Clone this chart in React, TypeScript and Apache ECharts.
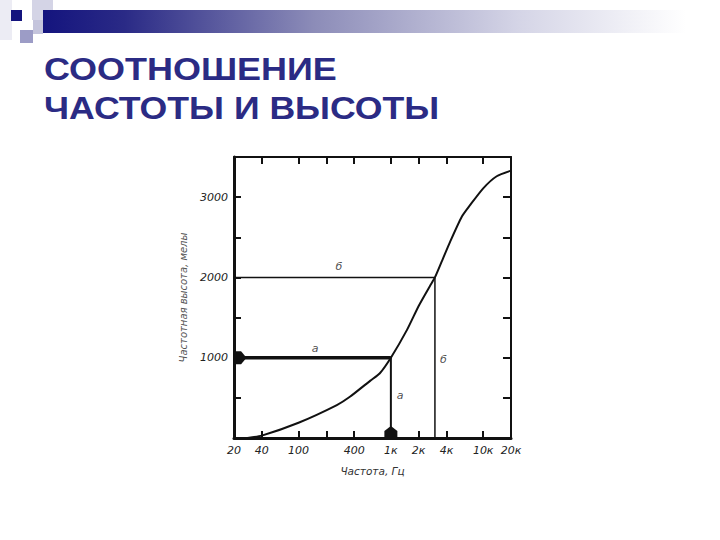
import React, { useEffect, useRef } from 'react';
import * as echarts from 'echarts';

const titleLines = ['СООТНОШЕНИЕ', 'ЧАСТОТЫ И ВЫСОТЫ'];
const xAxisName = 'Частота, Гц';
const yAxisName = 'Частотная высота, мелы';

// Mel curve: frequency (Hz) -> pitch (mel)
const curveFreq = [28, 40, 100, 260, 360, 600, 760, 1000, 1500, 2000, 2660, 3000, 3560, 4400, 5860, 7200, 10000, 14000, 20000];
const curveMel = [0, 30, 190, 410, 513, 715, 807, 1000, 1350, 1645, 1897, 2000, 2200, 2450, 2757, 2900, 3110, 3260, 3330];

// Axis ticks / labels
const xTickFreqs = [40, 100, 200, 400, 1000, 2000, 4000, 10000];
const xLabelFreqs = [20, 40, 100, 400, 1000, 2000, 4000, 10000, 20000];
const xLabelTexts = ['20', '40', '100', '400', '1к', '2к', '4к', '10к', '20к'];
const yLabelValues = [1000, 2000, 3000];
const xMinFreq = 20;
const xMaxFreq = 20000;
const yMax = 3500;
const yStep = 500;

// Reference examples a and б
const refA = { freq: 1000, mel: 1000 };
const refB = { freq: 3000, mel: 2000 };

// Annotation letters (frequency, mel, text)
const noteFreqs = [274, 151, 3700, 1257];
const noteMels = [2130, 1110, 975, 535];
const noteTexts = ['б', 'а', 'б', 'а'];

const lg = (v: number) => Math.log10(v);

export default function App() {
  const ref = useRef<HTMLDivElement>(null);
  useEffect(() => {
    if (!ref.current) return;
    const chart = echarts.init(ref.current, undefined, { renderer: 'svg' });
    const axisFont = {
      fontFamily: '"DejaVu Sans", "Liberation Sans", sans-serif',
      fontStyle: 'italic' as const,
      fontSize: 10,
      color: '#222',
    };
    const xMin = lg(xMinFreq);
    const xMax = lg(xMaxFreq);
    const labelFor = (v: number) => {
      const i = xLabelFreqs.findIndex((f) => Math.abs(lg(f) - v) < 1e-6);
      return i >= 0 ? xLabelTexts[i] : '';
    };
    const navy = '#2B2B84';
    const option: any = {
      animation: false,
      backgroundColor: '#ffffff',
      grid: { left: 234, right: 209, top: 157, bottom: 102, containLabel: false, outerBoundsMode: 'none' },
      xAxis: [
        {
          type: 'value',
          position: 'bottom',
          min: xMin,
          max: xMax,
          axisLine: { show: true, onZero: false, lineStyle: { color: '#111', width: 3 } },
          axisTick: {
            show: true,
            inside: true,
            length: 7,
            lineStyle: { color: '#111', width: 2 },
            customValues: xTickFreqs.map(lg),
          },
          axisLabel: {
            show: true,
            ...axisFont,
            fontSize: 11,
            margin: 7,
            customValues: xLabelFreqs.map(lg),
            formatter: (v: number) => labelFor(v),
          },
          splitLine: { show: false },
          name: xAxisName,
          nameLocation: 'middle',
          nameGap: 27,
          nameTextStyle: { ...axisFont, fontSize: 10.5, color: '#333' },
        },
        {
          type: 'value',
          position: 'top',
          min: xMin,
          max: xMax,
          axisLine: { show: true, onZero: false, lineStyle: { color: '#111', width: 2 } },
          axisTick: {
            show: true,
            inside: true,
            length: 7,
            lineStyle: { color: '#111', width: 2 },
            customValues: xTickFreqs.map(lg),
          },
          axisLabel: { show: false },
          splitLine: { show: false },
        },
      ],
      yAxis: [
        {
          type: 'value',
          position: 'left',
          min: 0,
          max: yMax,
          interval: yStep,
          axisLine: { show: true, onZero: false, lineStyle: { color: '#111', width: 3 } },
          axisTick: { show: true, inside: true, length: 7, lineStyle: { color: '#111', width: 2 } },
          axisLabel: {
            show: true,
            ...axisFont,
            fontSize: 11,
            margin: 6,
            customValues: yLabelValues,
            formatter: (v: number) => String(v),
          },
          splitLine: { show: false },
          name: yAxisName,
          nameLocation: 'middle',
          nameGap: 46,
          nameRotate: 90,
          nameTextStyle: { ...axisFont, fontSize: 10, color: '#555' },
        },
        {
          type: 'value',
          position: 'right',
          min: 0,
          max: yMax,
          interval: yStep,
          axisLine: { show: true, onZero: false, lineStyle: { color: '#111', width: 2 } },
          axisTick: { show: true, inside: true, length: 8, lineStyle: { color: '#111', width: 2 } },
          axisLabel: { show: false },
          splitLine: { show: false },
        },
      ],
      series: [
        {
          name: 'curve',
          type: 'line',
          smooth: 0.2,
          symbol: 'none',
          lineStyle: { color: '#111', width: 2 },
          data: curveFreq.map((f, i) => [lg(f), curveMel[i]]),
          z: 5,
        },
        {
          name: 'a-h',
          type: 'line',
          symbol: 'none',
          lineStyle: { color: '#111', width: 3.5 },
          data: [[xMin, refA.mel], [lg(refA.freq), refA.mel]],
        },
        {
          name: 'a-v',
          type: 'line',
          symbol: 'none',
          lineStyle: { color: '#111', width: 2 },
          data: [[lg(refA.freq), refA.mel], [lg(refA.freq), 0]],
        },
        {
          name: 'b-h',
          type: 'line',
          symbol: 'none',
          lineStyle: { color: '#111', width: 1.5 },
          data: [[xMin, refB.mel], [lg(refB.freq), refB.mel]],
        },
        {
          name: 'b-v',
          type: 'line',
          symbol: 'none',
          lineStyle: { color: '#111', width: 1.5 },
          data: [[lg(refB.freq), refB.mel], [lg(refB.freq), 0]],
        },
        {
          name: 'arrows',
          type: 'scatter',
          silent: true,
          z: 10,
          data: [
            {
              value: [xMin, refA.mel],
              symbol: 'path://M0,0 L7,0 L12,6 L7,12 L0,12 Z',
              symbolSize: [13, 13],
              symbolOffset: [6, 0],
            },
            {
              value: [lg(refA.freq), 0],
              symbol: 'path://M0,5 L6,0 L12,5 L12,12 L0,12 Z',
              symbolSize: [13, 12],
              symbolOffset: [0, -6],
            },
          ],
          itemStyle: { color: '#111', opacity: 1 },
        },
        {
          name: 'notes',
          type: 'scatter',
          silent: true,
          symbolSize: 0,
          data: noteFreqs.map((f, i) => ({ value: [lg(f), noteMels[i]], name: noteTexts[i] })),
          label: {
            show: true,
            position: 'inside',
            formatter: (p: any) => p.name,
            ...axisFont,
            fontSize: 11,
            color: '#222',
            textBorderWidth: 0,
          },
        },
      ],
      graphic: [
        {
          type: 'rect',
          shape: { x: 0, y: 0, width: 12, height: 40 },
          style: { fill: '#ececf4' },
        },
        {
          type: 'rect',
          shape: { x: 32, y: 0, width: 21, height: 20 },
          style: { fill: '#d4d4e6' },
        },
        {
          type: 'rect',
          shape: { x: 33, y: 20, width: 10, height: 14 },
          style: { fill: '#c4c4dc' },
        },
        {
          type: 'rect',
          shape: { x: 43, y: 10, width: 677, height: 23 },
          style: {
            fill: new echarts.graphic.LinearGradient(0, 0, 1, 0, [
              { offset: 0, color: '#14147e' },
              { offset: 0.12, color: '#2a2a86' },
              { offset: 0.4, color: '#8c8cb8' },
              { offset: 0.7, color: '#d4d4e6' },
              { offset: 0.95, color: '#ffffff' },
            ]),
          },
        },
        {
          type: 'rect',
          shape: { x: 11, y: 10, width: 11, height: 11 },
          style: { fill: '#14147e' },
        },
        {
          type: 'rect',
          shape: { x: 20, y: 30, width: 13, height: 13 },
          style: { fill: '#9c9cc6' },
        },
        {
          type: 'text',
          x: 44,
          y: 69,
          scaleX: 1.16,
          style: {
            text: titleLines[0],
            fill: navy,
            font: 'bold 31px "Liberation Sans", Arial, sans-serif',
            verticalAlign: 'middle',
          },
        },
        {
          type: 'text',
          x: 44,
          y: 108,
          scaleX: 1.15,
          style: {
            text: titleLines[1],
            fill: navy,
            font: 'bold 31px "Liberation Sans", Arial, sans-serif',
            verticalAlign: 'middle',
          },
        },
      ],
    };
    chart.setOption(option);
    return () => chart.dispose();
  }, []);
  return (
    <div
      ref={ref}
      style={{ position: 'fixed', left: 0, top: 0, width: 720, height: 540, background: '#fff' }}
    />
  );
}
